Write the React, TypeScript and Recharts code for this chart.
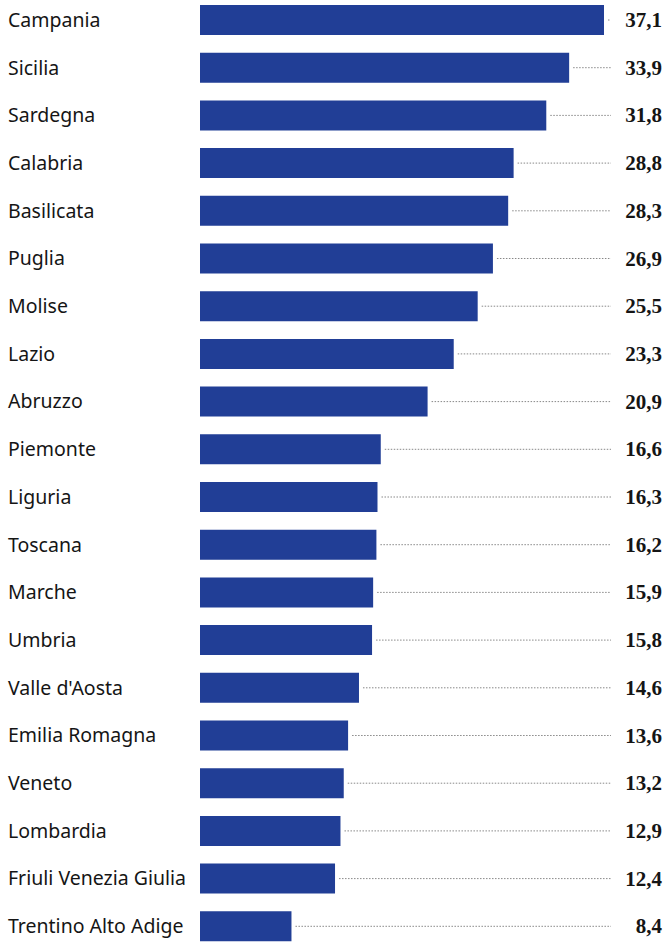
import { Bar, BarChart, LabelList, XAxis, YAxis } from 'recharts';

const regions = [
  'Campania',
  'Sicilia',
  'Sardegna',
  'Calabria',
  'Basilicata',
  'Puglia',
  'Molise',
  'Lazio',
  'Abruzzo',
  'Piemonte',
  'Liguria',
  'Toscana',
  'Marche',
  'Umbria',
  "Valle d'Aosta",
  'Emilia Romagna',
  'Veneto',
  'Lombardia',
  'Friuli Venezia Giulia',
  'Trentino Alto Adige',
];

const values = [
  37.1, 33.9, 31.8, 28.8, 28.3, 26.9, 25.5, 23.3, 20.9, 16.6, 16.3, 16.2, 15.9, 15.8, 14.6, 13.6,
  13.2, 12.9, 12.4, 8.4,
];

const data = regions.map((name, i) => ({ name, value: values[i] }));

const BAR_COLOR = '#213e96';
const LEADER_END = 611;
const VALUE_RIGHT = 662;

const RegionTick = (props: any) => {
  const { y, payload } = props;
  return (
    <text
      x={8}
      y={y}
      dy={7}
      textAnchor='start'
      fontFamily='"Noto Sans", sans-serif'
      fontSize={19.5}
      fill='#151515'
    >
      {payload.value}
    </text>
  );
};

const ValueLabel = (props: any) => {
  const { x, y, width, height, value } = props;
  const cy = y + height / 2;
  const end = x + width;
  return (
    <g>
      <line
        x1={end + 4}
        x2={LEADER_END}
        y1={cy}
        y2={cy}
        stroke='#888'
        strokeWidth={1}
        strokeDasharray='1.5 1.5'
      />
      <text
        x={VALUE_RIGHT}
        y={cy}
        dy={7}
        textAnchor='end'
        fontFamily='"Liberation Serif", serif'
        fontWeight='bold'
        fontSize={21}
        fill='#151515'
      >
        {Number(value).toFixed(1).replace('.', ',')}
      </text>
    </g>
  );
};

const App = () => {
  return (
    <div
      style={{
        position: 'fixed',
        left: 0,
        top: 0,
        width: 665,
        height: 943,
        overflow: 'hidden',
        background: '#fff',
      }}
    >
      <div style={{ marginTop: -4 }}>
        <BarChart
          width={665}
          height={954}
          data={data}
          layout='vertical'
          margin={{ top: 0, right: 61, bottom: 0, left: 0 }}
        >
          <XAxis
            type='number'
            hide
            domain={[0, 'dataMax']}
          />
          <YAxis
            type='category'
            dataKey='name'
            width={200}
            axisLine={false}
            tickLine={false}
            tick={RegionTick}
            interval={0}
          />
          <Bar
            dataKey='value'
            fill={BAR_COLOR}
            barSize={30}
            isAnimationActive={false}
          >
            <LabelList
              dataKey='value'
              content={ValueLabel}
            />
          </Bar>
        </BarChart>
      </div>
    </div>
  );
};

export default App;
